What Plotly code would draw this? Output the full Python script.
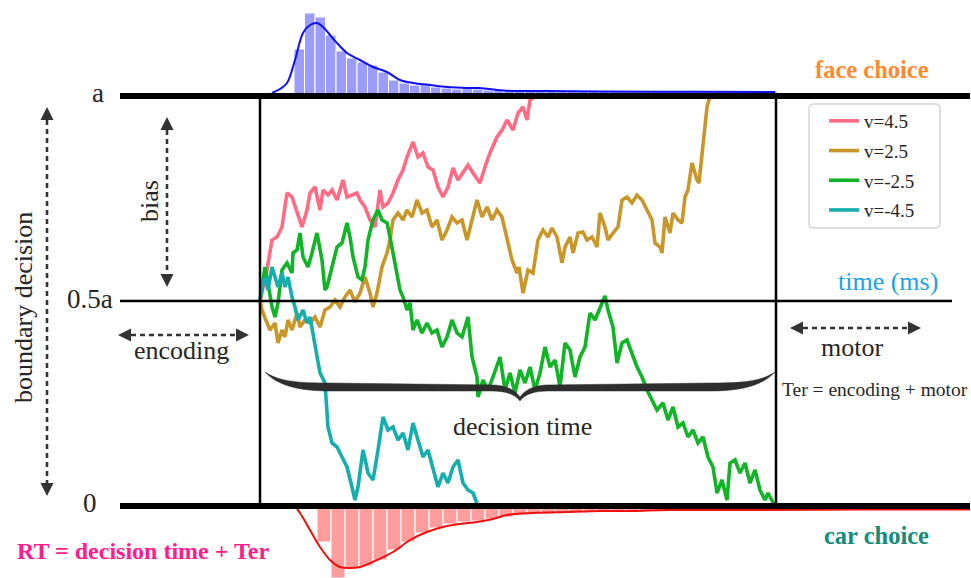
import plotly.graph_objects as go

# ---------------- data ----------------
# evidence units: lower boundary 0, upper boundary a = 410 ; time along x axis
A = 410
START_TIME = 260     # end of encoding / start of decision
END_TIME = 776       # end of decision window

walk_v45 = [(260,205),(267,236),(272,266),(277,269),(282,279),(287,313),(292,309),(297,293),(302,279),(307,296),
            (310,313),(315,319),(320,296),(323,316),(328,311),(332,316),(337,306),(343,326),(347,309),(352,311),
            (357,313),(360,306),(365,299),(370,286),(375,279),(380,316),(383,299),(388,303),(393,313),(398,326),
            (403,336),(407,349),(413,364),(418,349),(423,353),(428,339),(433,336),(438,319),(443,309),(448,319),
            (453,338),(458,326),(463,333),(468,341),(473,333),(480,323),(485,339),(490,353),(497,369),(502,376),
            (507,386),(513,376),(518,393),(523,399),(527,386),(530,406),(533,408),(535,410)]

walk_v25 = [(260,205),(262,196),(265,188),(270,176),(275,183),(278,163),(282,176),(285,169),(288,186),(292,176),
            (297,193),(300,179),(305,186),(310,183),(315,189),(320,179),(325,196),(330,199),(335,206),(340,199),
            (345,209),(350,216),(355,204),(360,213),(365,229),(370,213),(373,199),(377,213),(382,239),(387,253),
            (390,266),(393,286),(398,293),(403,286),(407,296),(412,289),(417,306),(422,293),(427,296),(432,279),
            (437,286),(442,266),(447,276),(452,289),(457,283),(462,286),(467,266),(472,286),(477,306),(482,289),
            (487,299),(492,286),(497,296),(502,289),(507,269),(512,246),(517,233),(519,239),(523,213),(528,236),
            (533,233),(538,266),(543,276),(548,269),(552,278),(557,269),(562,243),(565,259),(570,269),(573,253),
            (578,273),(583,274),(587,266),(592,269),(597,259),(600,293),(605,279),(608,266),(613,273),(618,279),
            (622,306),(627,309),(632,303),(637,311),(642,306),(647,296),(652,286),(655,263),(660,259),(662,253),
            (665,289),(670,273),(673,293),(678,286),(682,283),(685,309),(688,316),(692,343),(697,326),(699,323),
            (702,349),(705,376),(707,399),(710,410)]

walk_vm25 = [(260,205),(262,219),(265,239),(268,223),(272,199),(275,189),(278,203),(282,236),(287,243),(292,233),
             (293,253),(297,256),(300,273),(303,249),(308,239),(312,253),(317,273),(322,246),(325,216),(327,219),
             (332,239),(337,259),(342,263),(347,283),(350,269),(353,249),(358,229),(362,226),(365,239),(368,266),
             (373,286),(378,296),(382,286),(387,283),(390,269),(393,253),(397,233),(400,216),(403,209),(407,196),
             (410,203),(413,176),(417,186),(422,173),(427,183),(432,173),(437,176),(442,159),(447,169),(452,186),
             (457,173),(462,169),(468,189),(472,149),(477,129),(478,109),(483,126),(488,116),(493,129),(500,149),
             (505,116),(510,133),(515,113),(520,136),(525,123),(530,139),(535,116),(540,133),(545,159),(550,139),
             (555,146),(560,119),(565,163),(570,156),(575,129),(580,149),(585,159),(590,193),(595,186),(600,199),
             (605,210),(608,196),(613,179),(617,143),(622,163),(627,166),(632,153),(637,139),(642,129),(647,116),
             (652,106),(657,96),(663,103),(668,86),(673,99),(678,79),(683,83),(688,69),(693,76),(698,63),
             (703,69),(708,49),(713,39),(717,13),(722,26),(727,6),(730,43),(735,46),(740,33),(745,43),
             (750,23),(755,36),(760,16),(765,6),(768,13),(775,0)]

walk_vm45 = [(260,205),(262,219),(265,229),(268,216),(272,239),(275,229),(278,219),(282,233),(285,219),(288,229),
             (292,209),(295,199),(298,186),(303,196),(307,183),(310,189),(313,171),(317,150),(320,133),(325,123),
             (328,79),(332,63),(337,59),(342,49),(347,39),(352,19),(355,6),(358,19),(363,56),(368,33),
             (373,26),(378,56),(383,89),(388,76),(393,79),(398,66),(403,73),(408,56),(413,83),(418,66),
             (423,49),(428,56),(433,39),(438,19),(443,33),(448,23),(453,39),(458,46),(463,23),(468,16),
             (473,13),(476,6),(478,0)]

series_names = ["v=4.5", "v=2.5", "v=-2.5", "v=-4.5"]
series_colors = ["#FF6B84", "#C9962A", "#12B427", "#15AEAC"]

# RT histograms (heights in evidence units above a / below 0)
face_bin_left, face_bin_width = 294, 10.5
face_hist = [47, 83, 79, 61, 45, 38, 34, 31, 24, 16, 13, 11, 13, 9, 8, 7, 8, 7, 6, 6, 6, 6, 5, 6,
             5, 5, 5, 5, 5, 5, 5, 5, 5, 5, 5, 5, 5, 5, 5, 5, 5, 5, 5, 5, 5, 5]
car_bin_left, car_bin_width = 317, 14
car_hist = [36, 72, 62, 60, 54, 44, 36, 27, 22, 18, 16, 15, 13, 11, 9, 8, 8, 7, 7, 6, 6, 6, 5, 5,
            5, 5, 5, 4, 4, 4, 4, 4, 4, 4, 4, 4, 4, 4, 4]
face_curve_t = [272, 280, 287, 295, 303, 310, 317, 323, 330, 337, 347, 360, 373, 387, 400, 413, 430, 447,
                467, 480, 497, 513, 547, 600, 700, 775]
face_curve_v = [3, 7, 13, 36, 63, 71, 73, 69, 61, 53, 43, 36, 29, 24, 16, 13, 11, 9, 8, 8, 6, 5, 5, 4.5, 4.2, 4]
car_curve_t = [297, 300, 310, 320, 330, 340, 350, 360, 377, 393, 410, 427, 443, 460, 477, 493, 507, 533,
               567, 600, 633, 667, 750, 860, 970]
car_curve_v = [3, 7, 24, 41, 54, 61, 62, 61, 54, 46, 34, 26, 21, 18, 16, 13, 9, 7, 6, 5, 5, 4, 4, 3.5, 3.5]

# ---------------- figure ----------------
W, H = 971, 578
TOP_PX = 506  # pixel row of evidence 0


def Y(py):
    return TOP_PX - py


fig = go.Figure()

fig.add_trace(go.Bar(x=[face_bin_left + face_bin_width * (i + 0.5) for i in range(len(face_hist))],
                     y=face_hist, base=A, width=face_bin_width,
                     marker=dict(color="#9C9CFA", line=dict(color="white", width=1)),
                     showlegend=False, hoverinfo="skip"))
fig.add_trace(go.Bar(x=[car_bin_left + car_bin_width * (i + 0.5) for i in range(len(car_hist))],
                     y=[-v for v in car_hist], base=0, width=car_bin_width,
                     marker=dict(color="#FF9C9C", line=dict(color="white", width=1)),
                     showlegend=False, hoverinfo="skip"))
fig.add_trace(go.Scatter(x=face_curve_t, y=[A + v for v in face_curve_v], mode="lines",
                         line=dict(color="#1010EE", width=2, shape="spline"), showlegend=False))
fig.add_trace(go.Scatter(x=car_curve_t, y=[-v for v in car_curve_v], mode="lines",
                         line=dict(color="#EE1010", width=2, shape="spline"), showlegend=False))

for name, col, walk in zip(series_names, series_colors, [walk_v45, walk_v25, walk_vm25, walk_vm45]):
    fig.add_trace(go.Scatter(x=[p[0] for p in walk], y=[p[1] for p in walk], mode="lines", name=name,
                             legendgroup=name, line=dict(color=col, width=3.6)))

shapes = []
# boundaries and axes
shapes.append(dict(type="line", x0=120, x1=970, y0=A, y1=A, line=dict(color="black", width=6)))
shapes.append(dict(type="line", x0=120, x1=970, y0=0, y1=0, line=dict(color="black", width=6)))
shapes.append(dict(type="line", x0=120, x1=952, y0=A / 2, y1=A / 2, line=dict(color="black", width=2.5)))
shapes.append(dict(type="line", x0=START_TIME, x1=START_TIME, y0=0, y1=A, line=dict(color="black", width=2.5)))
shapes.append(dict(type="line", x0=END_TIME, x1=END_TIME, y0=0, y1=A, line=dict(color="black", width=2.5)))


def dashed_arrow(x0, y0, x1, y1, head=13, half=6.5):
    import math
    dx, dy = x1 - x0, y1 - y0
    L = math.hypot(dx, dy)
    ux, uy = dx / L, dy / L
    px, py = -uy, ux
    out = [dict(type="line", x0=x0 + ux * head, y0=Y(y0 + uy * head), x1=x1 - ux * head, y1=Y(y1 - uy * head),
                line=dict(color="#333333", width=2.6, dash="5px,4px"))]
    for (tx, ty, sx) in [(x0, y0, 1), (x1, y1, -1)]:
        bx, by = tx + sx * ux * head, ty + sx * uy * head
        path = "M {},{} L {},{} L {},{} Z".format(tx, Y(ty), bx + px * half, Y(by + py * half),
                                                    bx - px * half, Y(by - py * half))
        out.append(dict(type="path", path=path, fillcolor="#333333", line=dict(width=0)))
    return out


shapes += dashed_arrow(47, 107, 47, 496)
shapes += dashed_arrow(167, 117, 167, 287)
shapes += dashed_arrow(118, 335, 249, 335)
shapes += dashed_arrow(790, 328, 921, 328)

# curly brace
brace_px = [("M", 265, 372), ("C", 280, 382, 300, 383, 330, 383), ("L", 495, 385),
            ("C", 507, 386, 515, 390, 520, 397), ("C", 525, 390, 533, 386, 545, 385), ("L", 710, 383),
            ("C", 740, 383, 760, 382, 775, 372), ("C", 762, 386, 740, 391, 710, 391), ("L", 548, 391),
            ("C", 535, 391, 525, 394, 520, 401), ("C", 515, 394, 505, 391, 492, 391), ("L", 330, 391),
            ("C", 300, 391, 278, 386, 265, 372)]
parts = []
for seg in brace_px:
    cmd, nums = seg[0], seg[1:]
    pts = ["{},{}".format(nums[i], Y(nums[i + 1])) for i in range(0, len(nums), 2)]
    parts.append(cmd + " " + " ".join(pts))
shapes.append(dict(type="path", path=" ".join(parts) + " Z", fillcolor="#2E2E2E", line=dict(color="#2E2E2E", width=0.5)))

# legend frame (rounded)
lx0, lx1, ly0, ly1, r = 809, 940, 104, 228, 5
frame = ("M {a},{t} L {b},{t} Q {x1},{t} {x1},{t2} L {x1},{b2} Q {x1},{bt} {b},{bt} L {a},{bt} "
         "Q {x0},{bt} {x0},{b2} L {x0},{t2} Q {x0},{t} {a},{t} Z").format(
    a=lx0 + r, b=lx1 - r, x0=lx0, x1=lx1, t=Y(ly0), t2=Y(ly0 + r), bt=Y(ly1), b2=Y(ly1 - r))
shapes.append(dict(type="path", path=frame, line=dict(color="#D5D5D5", width=1.5), layer="below"))

SERIF = "Liberation Serif"
annotations = []


def ann(text, px, py, size, color="#262626", bold=False, angle=0):
    annotations.append(dict(x=px, y=Y(py), xref="x", yref="y", text=("<b>%s</b>" % text) if bold else text,
                            showarrow=False, textangle=angle, xanchor="center", yanchor="middle",
                            font=dict(family=SERIF, size=size, color=color)))


ann("a", 98, 93, 27)
ann("0.5a", 90, 299, 27)
ann("0", 90, 503, 27)
ann("boundary decision", 23, 308, 26, angle=-90)
ann("bias", 149, 201, 26, angle=-90)
ann("encoding", 181, 350, 26)
ann("motor", 852, 347, 26)
ann("Ter = encoding + motor", 875, 389, 19.5)
ann("time (ms)", 888, 281, 26, color="#1AA3E6")
ann("decision time", 522, 426, 26)
ann("face choice", 872, 69, 24.5, color="#FF8A2E", bold=True)
ann("car choice", 876, 535, 24.5, color="#148C7A", bold=True)
ann("RT = decision time + Ter", 143, 551, 24, color="#FF1C8C", bold=True)

fig.update_layout(
    width=W, height=H, margin=dict(l=0, r=0, t=0, b=0),
    paper_bgcolor="white", plot_bgcolor="white", barmode="overlay",
    xaxis=dict(range=[0, W], visible=False, fixedrange=True),
    yaxis=dict(range=[TOP_PX - H, TOP_PX], visible=False, fixedrange=True),
    shapes=shapes, annotations=annotations,
    legend=dict(x=824 / W, y=1 - 102 / H, xanchor="left", yanchor="top", bgcolor="rgba(0,0,0,0)",
                font=dict(family=SERIF, size=19, color="#262626"), tracegroupgap=2, borderwidth=0),
    showlegend=True,
)

fig.write_html("out.html")
